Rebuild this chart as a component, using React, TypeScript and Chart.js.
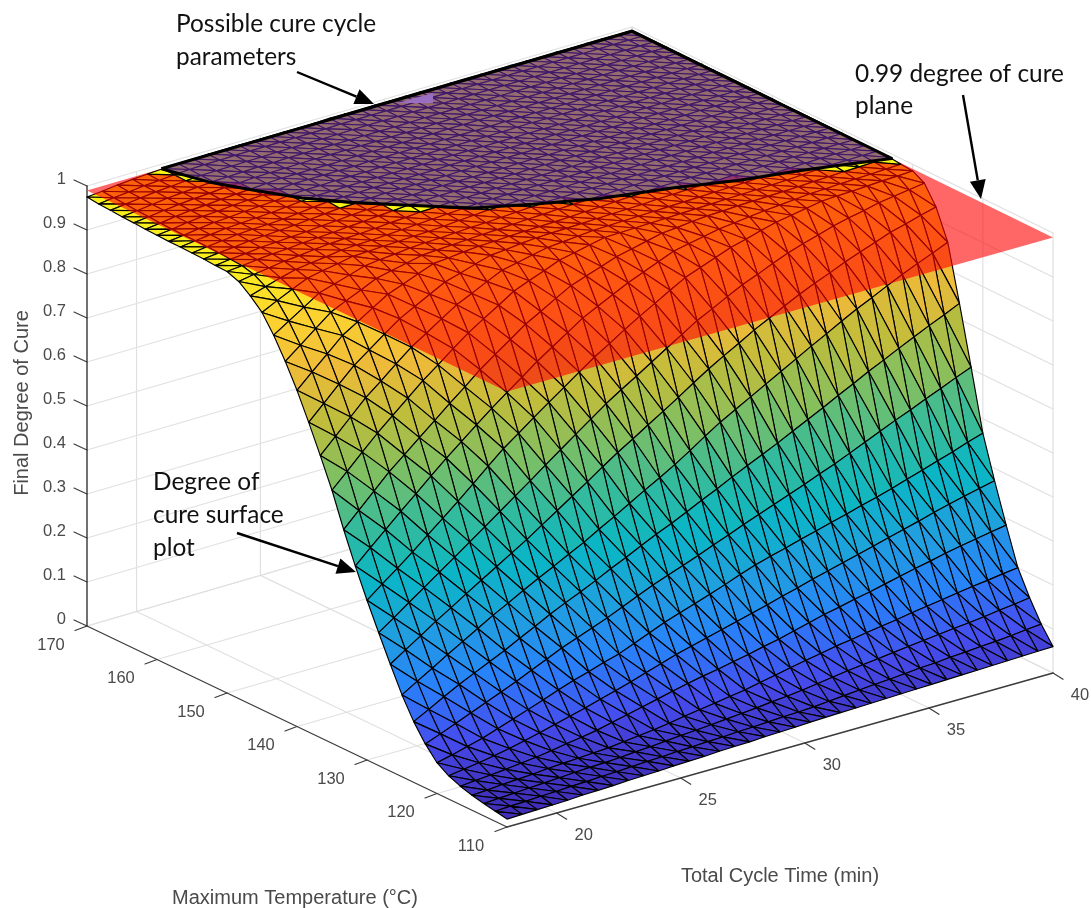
import React, { useEffect, useRef } from "react";
import { Chart, registerables } from "chart.js";

Chart.register(...registerables);

const cycleTimes: number[] = [18,18.611,19.222,19.833,20.444,21.056,21.667,22.278,22.889,23.5,24.111,24.722,25.333,25.944,26.556,27.167,27.778,28.389,29,29.611,30.222,30.833,31.444,32.056,32.667,33.278,33.889,34.5,35.111,35.722,36.333,36.944,37.556,38.167,38.778,39.389,40];
const temperatures: number[] = [110,111.67,113.33,115,116.67,118.33,120,121.67,123.33,125,126.67,128.33,130,131.67,133.33,135,136.67,138.33,140,141.67,143.33,145,146.67,148.33,150,151.67,153.33,155,156.67,158.33,160,161.67,163.33,165,166.67,168.33,170];

// Final degree of cure x 1000, one row per temperature, one value per cycle time
const r00 = [18,19,20,21,22,24,25,26,28,29,30,32,33,34,36,37,38,40,41,42,44,45,46,47,48,49,50,51,52,53,54,55,56,57,58,59,60];
const r01 = [23,25,26,28,29,31,32,34,35,37,39,40,42,43,45,46,48,49,51,53,54,56,59,62,65,68,70,73,76,78,81,83,86,88,91,95,98];
const r02 = [28,30,32,34,36,38,40,42,43,45,48,50,53,56,58,61,64,67,70,74,77,81,86,91,96,100,104,108,112,116,120,124,127,131,136,140,145];
const r03 = [34,36,39,41,43,46,48,50,52,54,58,62,66,71,77,82,87,93,98,105,112,119,126,132,139,144,150,155,160,166,171,176,182,187,191,196,200];
const r04 = [42,45,48,51,55,59,64,70,75,81,89,97,105,113,121,129,136,142,149,156,164,171,180,189,198,205,213,220,228,236,244,251,259,266,272,278,284];
const r05 = [53,58,63,69,76,84,92,101,110,119,129,139,149,160,171,182,191,200,209,218,227,236,246,255,265,274,283,292,301,311,320,329,339,348,356,364,372];
const r06 = [70,78,87,96,108,120,132,144,157,169,179,190,200,214,228,242,254,265,277,289,302,314,324,333,343,352,362,371,381,390,400,411,422,433,444,456,467];
const r07 = [100,113,127,141,155,169,183,199,214,230,243,256,269,284,299,314,327,339,352,366,379,393,406,419,432,445,459,472,487,502,517,532,546,561,575,590,604];
const r08 = [138,156,175,193,209,225,241,259,276,294,310,325,341,358,374,391,407,422,438,455,471,488,504,520,536,553,570,587,605,622,640,656,673,689,705,720,736];
const r09 = [186,207,227,248,268,288,308,326,345,363,380,398,415,435,454,474,494,513,533,555,578,600,619,638,657,676,695,714,732,751,769,785,802,818,833,847,862];
const r10 = [243,266,288,311,332,354,375,396,417,438,461,484,507,530,554,577,598,620,641,663,686,708,728,747,767,784,802,819,834,848,863,876,888,901,910,920,929];
const r11 = [302,326,351,375,400,424,449,474,499,524,549,575,600,625,650,675,697,718,740,762,783,805,822,840,857,871,886,900,911,921,932,940,947,955,960,965,970];
const r12 = [363,390,416,443,472,500,529,559,589,619,644,670,695,719,744,768,789,811,832,851,871,890,903,916,929,938,948,957,963,969,975,977,978,980,982,983,985];
const r13 = [428,460,491,523,553,584,614,642,670,698,724,749,775,798,821,844,861,878,895,909,923,937,944,951,958,962,966,970,973,976,979,980,982,983,984,986,987];
const r14 = [498,532,566,600,629,658,687,716,744,773,798,822,847,866,886,905,917,929,941,949,957,965,968,972,975,976,978,979,980,981,982,984,985,987,988,989,990];
const r15 = [575,608,642,675,705,735,765,791,818,844,866,887,909,923,936,950,957,965,972,973,974,975,976,977,978,979,980,981,982,983,984,986,988,990,990,991,991];
const r16 = [641,675,709,743,771,800,828,850,873,895,911,928,944,951,959,966,969,972,975,976,977,978,979,980,981,982,983,984,985,987,988,989,990,991,991,991,991];
const r17 = [704,737,771,804,829,855,880,898,916,934,944,955,965,968,972,975,976,977,978,979,980,981,982,984,985,986,987,988,989,989,990,990,991,991,991,991,991];
const r18 = [764,796,827,859,880,902,923,936,950,963,966,970,973,974,976,977,978,979,980,982,983,985,987,988,990,990,991,991,991,991,991,991,991,991,991,992,992];
const r19 = [817,844,872,899,915,930,946,954,961,969,971,973,975,977,978,980,982,983,985,986,987,988,989,990,991,991,991,991,991,992,992,992,992,992,992,992,992];
const r20 = [864,886,908,930,941,951,962,966,969,973,975,976,978,980,981,983,985,987,989,989,990,990,990,991,991,991,991,991,991,992,992,992,992,992,992,992,992];
const r21 = [903,920,936,951,958,964,971,972,974,975,977,978,980,983,985,988,989,989,990,990,991,991,991,991,991,991,992,992,992,992,992,992,992,992,992,992,992];
const r22 = [928,939,949,958,963,967,972,974,975,977,979,981,983,985,987,989,990,990,991,991,991,991,991,992,992,992,992,992,992,992,992,992,992,992,992,992,992];
const r23 = [948,954,959,964,967,971,974,976,977,979,982,984,987,988,989,990,990,991,991,991,991,991,991,992,992,992,992,992,992,992,992,992,992,992,992,992,992];
const r24 = [958,961,965,968,970,973,975,977,980,982,985,987,990,990,991,991,991,991,991,991,992,992,992,992,992,992,992,992,992,992,992,992,993,993,993,993,993];
const r25 = [959,963,966,970,972,974,976,979,981,984,986,988,990,990,991,991,991,991,991,991,992,992,992,992,992,992,992,992,992,992,992,992,993,993,993,993,993];
const r26 = [961,965,968,972,974,976,978,981,984,987,988,990,991,991,991,991,991,992,992,992,992,992,992,992,992,992,992,992,992,993,993,993,993,993,993,993,993];
const r27 = [962,966,970,974,976,977,979,982,986,989,990,990,991,991,991,991,991,992,992,992,992,992,992,992,992,992,992,992,992,993,993,993,993,993,993,993,993];
const r28 = [963,967,971,975,977,979,981,984,987,990,990,991,991,991,991,991,991,992,992,992,992,992,992,992,992,992,992,993,993,993,993,993,993,993,993,993,993];
const r29 = [963,967,972,976,978,981,983,985,988,990,990,991,991,991,992,992,992,992,992,992,992,992,992,993,993,993,993,993,993,993,993,993,993,993,993,993,993];
const r30 = [964,968,973,977,979,982,984,986,989,991,991,991,991,991,992,992,992,992,992,992,992,992,992,993,993,993,993,993,993,993,993,993,993,993,993,993,993];
const r31 = [965,969,974,978,980,983,985,987,989,991,991,991,991,991,992,992,992,992,992,992,993,993,993,993,993,993,993,993,993,993,993,993,993,993,993,993,993];
const r32 = [967,971,975,979,982,984,987,988,990,991,991,992,992,992,992,992,992,992,992,992,993,993,993,993,993,993,993,993,993,993,993,993,993,993,993,993,993];
const r33 = [968,972,976,980,983,985,988,989,990,991,991,992,992,992,992,992,992,992,992,992,993,993,993,993,993,993,993,993,993,993,993,993,993,993,993,993,993];
const r34 = [970,974,978,982,984,987,989,990,990,991,991,992,992,992,992,992,993,993,993,993,993,993,993,993,993,993,993,993,993,993,993,993,993,993,993,993,993];
const r35 = [972,976,979,983,985,988,990,991,991,992,992,992,992,992,992,992,993,993,993,993,993,993,993,993,993,993,993,993,993,993,993,993,993,993,993,993,993];
const r36 = [975,978,982,985,987,989,991,991,992,992,992,992,992,992,992,992,993,993,993,993,993,993,993,993,993,993,993,993,993,993,993,993,993,993,993,993,993];
const cureRows: number[][] = [r00,r01,r02,r03,r04,r05,r06,r07,r08,r09,r10,r11,r12,r13,r14,r15,r16,r17,r18,r19,r20,r21,r22,r23,r24,r25,r26,r27,r28,r29,r30,r31,r32,r33,r34,r35,r36];

// The 0.99 contour of the surface, read as (time, temperature)
const contourTime = [21,21.5,22.2,23,24,25.3,26.8,28.5,30.5,33,35,37,38.5,40];
const contourTemp = [170,165,161,157,153.6,150,146,143.5,141,139,137,135.6,134.3,133];
const planeLevel = 0.99;

const timeTicks = [20,25,30,35,40];
const tempTicks = [110,120,130,140,150,160,170];
const cureTicks = [0,0.1,0.2,0.3,0.4,0.5,0.6,0.7,0.8,0.9,1];
const cureTickLabels = ["0","0.1","0.2","0.3","0.4","0.5","0.6","0.7","0.8","0.9","1"];

const T_MIN = 18, T_MAX = 40, K_MIN = 110, K_MAX = 170;
const parula: number[][] = [
  [62,38,168],[70,76,238],[40,130,250],[32,160,222],[10,182,197],
  [54,187,155],[125,191,100],[190,189,60],[238,186,57],[253,212,48],[249,251,20],
];

function colorFor(z: number) {
  const p = Math.max(0, Math.min(0.9999, z)) * 10;
  const i = Math.floor(p), f = p - i;
  const a = parula[i], b = parula[i + 1];
  return `rgb(${a.map((v, k) => Math.round(v + (b[k] - v) * f)).join(",")})`;
}

// view of the box: floor corners of the axes cube, in the scale units of the chart
function project(time: number, temp: number, z: number) {
  const u = (time - T_MIN) / (T_MAX - T_MIN);
  const v = (temp - K_MIN) / (K_MAX - K_MIN);
  const x = (1-u)*(1-v)*507 + u*(1-v)*1053 + (1-u)*v*87 + u*v*632;
  const y = (1-u)*(1-v)*827 + u*(1-v)*673 + (1-u)*v*626 + u*v*467;
  return { x, y: y - z * 440 };
}

type P = { x: number; y: number };

function buildDatasets() {
  const paint: any[] = [];
  const line = (pts: P[], color: string, width: number) =>
    paint.push({ data: pts, showLine: true, fill: false, borderColor: color, borderWidth: width, pointRadius: 0, tension: 0, clip: false, parsing: false, borderCapStyle: "round" });
  const shape = (pts: P[], bg: string, border: string, width: number) =>
    paint.push({ data: [...pts, pts[0]], showLine: true, fill: "shape", backgroundColor: bg, borderColor: border, borderWidth: width, pointRadius: 0, tension: 0, clip: false, parsing: false, borderJoinStyle: "round" });

  // walls and floor grid
  const grid = "#e0e0e0";
  for (const z of cureTicks) {
    line([project(T_MIN, K_MAX, z), project(T_MAX, K_MAX, z)], grid, 1.2);
    line([project(T_MAX, K_MAX, z), project(T_MAX, K_MIN, z)], grid, 1.2);
  }
  for (const t of timeTicks) {
    line([project(t, K_MIN, 0), project(t, K_MAX, 0)], grid, 1.2);
    line([project(t, K_MAX, 0), project(t, K_MAX, 1)], grid, 1.2);
  }
  for (const k of tempTicks) {
    line([project(T_MIN, k, 0), project(T_MAX, k, 0)], grid, 1.2);
    line([project(T_MAX, k, 0), project(T_MAX, k, 1)], grid, 1.2);
  }

  // axes and tick marks
  const axis = "#3c3c3c";
  line([project(T_MIN, K_MAX, 0), project(T_MIN, K_MAX, 1)], "#262626", 1.3);
  line([project(T_MIN, K_MAX, 0), project(T_MIN, K_MIN, 0)], axis, 1.3);
  line([project(T_MIN, K_MIN, 0), project(T_MAX, K_MIN, 0)], axis, 1.3);
  for (const z of cureTicks) {
    const p = project(T_MIN, K_MAX, z);
    line([p, { x: p.x - 13, y: p.y - 6 }], axis, 1.2);
  }
  for (const k of tempTicks) {
    const p = project(T_MIN, k, 0);
    line([p, { x: p.x - 12, y: p.y + 4.5 }], axis, 1.2);
  }
  for (const t of timeTicks) {
    const p = project(t, K_MIN, 0);
    line([p, { x: p.x + 10, y: p.y + 6.3 }], axis, 1.2);
  }

  // surface, split at the plane; far cells first
  const low: any[] = [], high: any[] = [];
  const node = (i: number, j: number) => project(cycleTimes[j], temperatures[i], cureRows[i][j] / 1000);
  const val = (i: number, j: number) => cureRows[i][j] / 1000;
  for (let i = temperatures.length - 2; i >= 0; i--) {
    for (let j = cycleTimes.length - 2; j >= 0; j--) {
      const tris: number[][][] = [
        [[i, j + 1], [i + 1, j + 1], [i + 1, j]],
        [[i, j], [i, j + 1], [i + 1, j]],
      ];
      for (const tri of tris) {
        const mean = (val(tri[0][0], tri[0][1]) + val(tri[1][0], tri[1][1]) + val(tri[2][0], tri[2][1])) / 3;
        (mean >= planeLevel - 0.002 ? high : low).push({ pts: tri.map(([a, b]) => node(a, b)), c: colorFor(mean) });
      }
    }
  }
  for (const f of low) shape(f.pts, f.c, "#000", 1.15);
  shape(
    [project(T_MIN, K_MAX, planeLevel), project(T_MIN, K_MIN, planeLevel), project(T_MAX, K_MIN, planeLevel), project(T_MAX, K_MAX, planeLevel)],
    "rgba(255,0,0,0.6)", "rgba(255,0,0,0)", 0
  );
  for (const f of high) shape(f.pts, f.c, "#000", 1.15);

  // region of possible cure cycle parameters
  const contour = contourTime.map((t, i) => project(t, contourTemp[i], planeLevel));
  shape([...contour, project(T_MAX, K_MAX, planeLevel)], "rgba(97,36,157,0.664)", "#000", 3);

  return paint.reverse();
}

const overlay = {
  id: "overlay",
  afterDraw(chart: any) {
    const ctx = chart.ctx;
    ctx.save();
    ctx.fillStyle = "#4a4a4a";
    ctx.font = '16.5px "Liberation Sans"';
    ctx.textBaseline = "middle";
    ctx.textAlign = "right";
    cureTicks.forEach((z, i) => {
      const p = project(T_MIN, K_MAX, z);
      ctx.fillText(cureTickLabels[i], p.x - 21, p.y - 7);
    });
    ctx.textAlign = "center";
    tempTicks.forEach((k) => {
      const p = project(T_MIN, k, 0);
      ctx.fillText(String(k), p.x - 36, p.y + 19);
    });
    timeTicks.forEach((t) => {
      const p = project(t, K_MIN, 0);
      ctx.fillText(String(t), p.x + 27, p.y + 22);
    });
    ctx.font = '20px "Liberation Sans"';
    ctx.fillText("Maximum Temperature (°C)", 295, 898);
    ctx.fillText("Total Cycle Time (min)", 780, 876);
    ctx.save();
    ctx.translate(22, 403);
    ctx.rotate(-Math.PI / 2);
    ctx.fillText("Final Degree of Cure", 0, 0);
    ctx.restore();

    // uncovered corner of the highlighted region
    ctx.fillStyle = "#9a6ec0";
    ctx.beginPath();
    ctx.moveTo(398, 103);
    ctx.lineTo(433, 103);
    ctx.lineTo(433, 93);
    ctx.closePath();
    ctx.fill();

    ctx.fillStyle = "#111";
    ctx.font = '24.4px Lato';
    ctx.textAlign = "left";
    ctx.fillText("Possible cure cycle", 176, 24);
    ctx.fillText("parameters", 176, 57);
    ctx.fillText("0.99 degree of cure", 855, 74);
    ctx.fillText("plane", 855, 106);
    ctx.fillText("Degree of", 153, 482);
    ctx.fillText("cure surface", 153, 515);
    ctx.fillText("plot", 153, 548);

    const arrow = (x0: number, y0: number, x1: number, y1: number) => {
      const a = Math.atan2(y1 - y0, x1 - x0);
      const len = 19, w = 8;
      ctx.strokeStyle = "#000";
      ctx.lineWidth = 2.4;
      ctx.beginPath();
      ctx.moveTo(x0, y0);
      ctx.lineTo(x1 - len * Math.cos(a), y1 - len * Math.sin(a));
      ctx.stroke();
      ctx.fillStyle = "#000";
      ctx.beginPath();
      ctx.moveTo(x1, y1);
      ctx.lineTo(x1 - len * Math.cos(a) + w * Math.sin(a), y1 - len * Math.sin(a) - w * Math.cos(a));
      ctx.lineTo(x1 - len * Math.cos(a) - w * Math.sin(a), y1 - len * Math.sin(a) + w * Math.cos(a));
      ctx.closePath();
      ctx.fill();
    };
    arrow(297, 72, 374, 104);
    arrow(963, 95, 981, 199);
    arrow(237, 533, 356, 572);
    ctx.restore();
  },
};

export default function App() {
  const ref = useRef<HTMLCanvasElement | null>(null);
  useEffect(() => {
    document.body.style.margin = "0";
    const chart = new Chart(ref.current as HTMLCanvasElement, {
      type: "scatter",
      data: { datasets: buildDatasets() },
      options: {
        animation: false,
        responsive: false,
        events: [],
        layout: { padding: 0 },
        plugins: { legend: { display: false }, tooltip: { enabled: false } },
        scales: {
          x: { type: "linear", min: 0, max: 1091, display: false },
          y: { type: "linear", min: 0, max: 908, reverse: true, display: false },
        },
      },
      plugins: [overlay],
    } as any);
    return () => chart.destroy();
  }, []);
  return <canvas ref={ref} width={1091} height={908} style={{ display: "block", width: 1091, height: 908, filter: "blur(0.35px)" }} />;
}
